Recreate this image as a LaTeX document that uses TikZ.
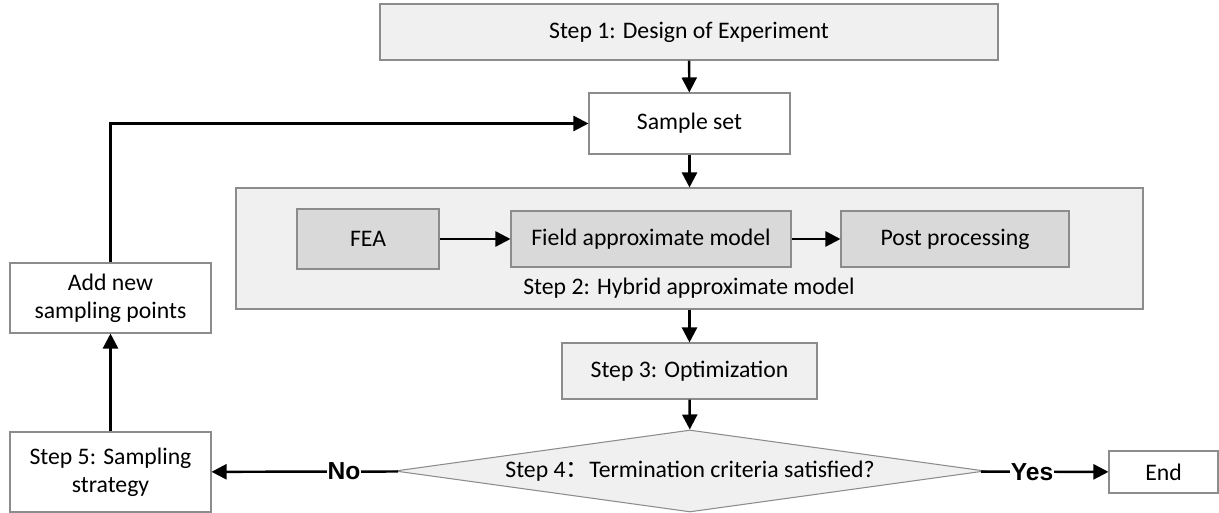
\documentclass[tikz,border=0pt]{standalone}
\usepackage{fontspec}
\setmainfont{Carlito}
\newfontfamily\yesno{Liberation Sans}
\newfontfamily\cjk{Noto Sans CJK SC}
\usetikzlibrary{shapes.geometric, arrows.meta, positioning}

\definecolor{boxline}{HTML}{8C8C8C}
\definecolor{lightfill}{HTML}{F0F0F0}
\definecolor{darkfill}{HTML}{D9D9D9}

\begin{document}
\begin{tikzpicture}[
  font=\fontsize{13.5}{16}\selectfont,
  box/.style={rectangle, draw=boxline, line width=0.6pt, fill=white, inner sep=2pt, align=center},
  arr/.style={-{Triangle[length=0.3cm, width=0.3cm]}, line width=1.4pt},
  decision/.style={font=\yesno\fontsize{14}{16}\selectfont\bfseries, fill=white, inner sep=0.5pt}
]
\useasboundingbox (0,0) rectangle (24.38,-10.26);

\node[box, fill=lightfill, minimum width=18.14cm, minimum height=2.42cm] (hybrid) at (13.79,-4.97) {};

\node[box, fill=lightfill, minimum width=12.36cm, minimum height=1.12cm] (doe) at (13.78,-0.64) {Step 1: Design of Experiment};
\node[box, minimum width=4.02cm, minimum height=1.22cm] (sample) at (13.79,-2.47) {Sample set};
\node[box, fill=darkfill, minimum width=2.84cm, minimum height=1.2cm] (fea) at (7.36,-4.78) {FEA};
\node[box, fill=darkfill, minimum width=5.6cm, minimum height=1.12cm] (field) at (13.02,-4.78) {Field approximate model};
\node[box, fill=darkfill, minimum width=4.56cm, minimum height=1.12cm] (post) at (19.1,-4.78) {Post processing};
\node (hybridlabel) at (13.78,-5.76) {Step 2: Hybrid approximate model};
\node[box, fill=lightfill, minimum width=5.1cm, minimum height=1.12cm] (optim) at (13.79,-7.42) {Step 3: Optimization};
\node[diamond, draw=boxline, line width=0.6pt, fill=lightfill, shape aspect=7.2, inner sep=0pt,
      minimum width=11.8cm, minimum height=1.64cm] (crit) at (13.8,-9.42) {Step 4{\cjk ：}Termination criteria satisfied?};
\node[box, minimum width=2.18cm, minimum height=0.84cm] (end) at (23.27,-9.44) {End};
\node[box, minimum width=4.02cm, minimum height=1.6cm] (strategy) at (2.21,-9.44) {Step 5: Sampling\\strategy};
\node[box, minimum width=4.02cm, minimum height=1.4cm] (addpts) at (2.21,-5.96) {Add new\\sampling points};

\draw[arr] (doe) -- (sample);
\draw[arr] (sample) -- (hybrid.north);
\draw[arr] (fea) -- (field);
\draw[arr] (field) -- (post);
\draw[arr] (hybrid.south) -- (optim);
\draw[arr] (optim) -- (crit);
\draw[arr] (crit) -- node[decision, pos=0.4] {Yes} (end);
\draw[arr] (crit) -- node[decision, pos=0.29] {No} (strategy);
\draw[arr] (strategy) -- (addpts);
\draw[arr] (addpts) |- (sample);

\end{tikzpicture}
\end{document}
